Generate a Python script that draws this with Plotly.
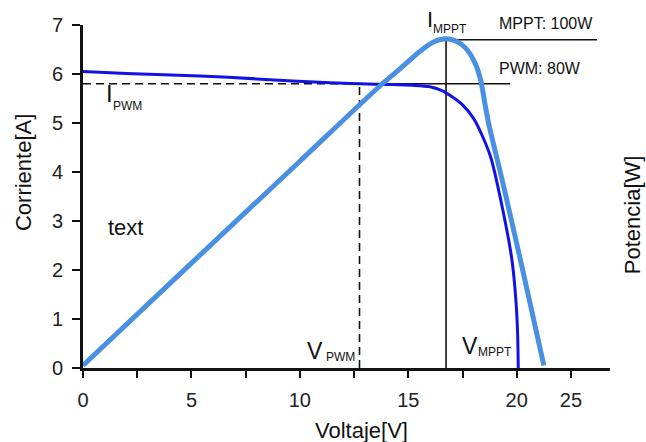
import plotly.graph_objects as go

# curva I-V del panel (corriente)
v_iv = [0, 2, 5.4, 8, 11.4, 13.7, 15.2, 16.0, 16.5, 17.0, 17.5, 18.0, 18.4, 18.8, 19.36, 19.78, 19.96, 20.04, 20.07]
i_iv = [6.05, 6.01, 5.96, 5.9, 5.82, 5.79, 5.77, 5.74, 5.67, 5.54, 5.37, 5.1, 4.75, 4.3, 3.22, 2.2, 1.39, 0.71, 0.0]

# curva de potencia (escalada al eje de corriente)
v_pot = [0, 5, 10, 13.7, 14.6, 15.5, 16.1, 16.74, 17.3, 17.7, 18.1, 18.35, 18.55, 18.7, 19.4, 20.3, 21.25]
p_pot = [0.05, 2.14, 4.22, 5.76, 6.1, 6.45, 6.64, 6.72, 6.65, 6.5, 6.2, 5.85, 5.35, 5.0, 3.7, 1.95, 0.05]

# puntos de trabajo
v_pwm, i_pwm = 12.75, 5.8
v_mppt, i_mppt = 16.74, 6.7
fin_pwm, fin_mppt = 19.7, 23.7

x_ticks = [0, 2.5, 5, 7.5, 10, 12.5, 15, 17.5, 20, 22.5]
x_labels = ["0", "", "5", "", "10", "", "15", "", "20", "25"]
y_ticks = [0, 1, 2, 3, 4, 5, 6, 7]

FONT = "Liberation Sans, Arial, sans-serif"
NEGRO = "#111111"

fig = go.Figure()

def linea(x, y, dash="solid", w=1.6):
    fig.add_trace(go.Scatter(x=x, y=y, mode="lines", hoverinfo="skip",
                             line=dict(color=NEGRO, width=w, dash=dash)))

linea([0, v_pwm], [i_pwm, i_pwm], dash="8px,5px")
linea([v_pwm, v_pwm], [0, i_pwm], dash="8px,5px")
linea([v_pwm, fin_pwm], [i_pwm, i_pwm])
linea([v_mppt, v_mppt], [0, i_mppt])
linea([v_mppt, fin_mppt], [i_mppt, i_mppt])

fig.add_trace(go.Scatter(x=v_iv, y=i_iv, mode="lines", line_shape="spline",
                         line=dict(color="#1212E4", width=3, smoothing=0.8)))
fig.add_trace(go.Scatter(x=v_pot, y=p_pot, mode="lines", line_shape="spline",
                         line=dict(color="#4A90E2", width=5, smoothing=0.8)))

def txt(x, y, s, size, yref="y"):
    fig.add_annotation(x=x, y=y, xref="x", yref=yref, text=s, showarrow=False,
                       xanchor="left", yanchor="middle",
                       font=dict(family=FONT, size=size, color=NEGRO))

# etiquetas
txt(15.75, 1.015, "I", 22, yref="paper")
txt(16.05, 0.987, "MPPT", 12, yref="paper")
txt(19.09, 1.003, "MPPT: 100W", 16, yref="paper")
txt(19.09, 6.12, "PWM: 80W", 16)
txt(0.95, 5.6, "I", 24)
txt(1.3, 5.35, "PWM", 12)
txt(1.05, 2.86, "text", 22)
txt(10.25, 0.35, "V", 23)
txt(11.1, 0.23, "PWM", 12)
txt(17.4, 0.45, "V", 23)
txt(18.1, 0.33, "MPPT", 12)

# titulos de ejes
def titulo(x, y, s, ang=0):
    fig.add_annotation(x=x, y=y, xref="paper", yref="paper", text=s,
                       textangle=ang, showarrow=False, xanchor="center", yanchor="middle",
                       font=dict(family=FONT, size=22, color=NEGRO))

titulo(-0.114, 0.571, "Corriente[A]", -90)
titulo(0.529, -0.181, "Voltaje[V]")
titulo(1.042, 0.446, "Potencia[W]", -90)

eje = dict(showline=True, linewidth=3, linecolor=NEGRO, ticks="outside",
           tickcolor=NEGRO, tickwidth=1.5, showgrid=False, zeroline=False,
           tickfont=dict(family=FONT, size=20, color="#222222"))

fig.update_xaxes(range=[0, 24.3], tickvals=x_ticks, ticktext=x_labels,
                 ticklen=7, ticklabelstandoff=5, **eje)
fig.update_yaxes(range=[0, 7], tickvals=y_ticks, ticklen=8,
                 ticklabelstandoff=5, **eje)

fig.update_layout(width=646, height=442, showlegend=False,
                  plot_bgcolor="white", paper_bgcolor="white",
                  margin=dict(l=83, r=36, t=25, b=74),
                  font=dict(family=FONT))

fig.write_html("out.html", config={"displayModeBar": False},
               post_script="document.body.style.margin='0';")
